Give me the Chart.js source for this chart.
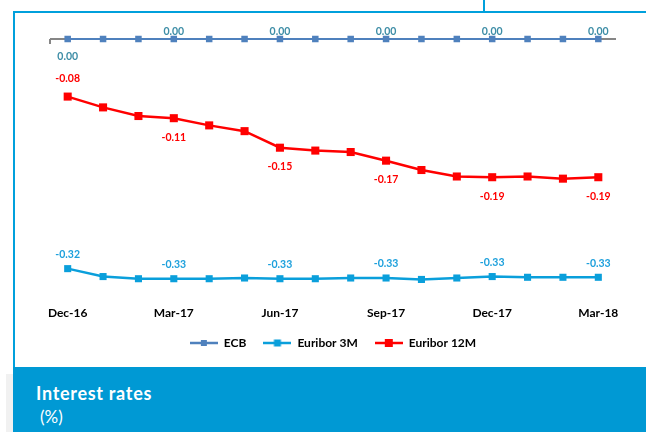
<!DOCTYPE html>
<html>
<head>
<meta charset="utf-8">
<script src="https://cdn.jsdelivr.net/npm/chart.js@4"></script>
<style>
  html, body { margin: 0; padding: 0; background: #fff; }
  #page { position: relative; width: 646px; height: 432px; overflow: hidden; font-family: Lato, 'Open Sans', sans-serif; }
  .frame { position: absolute; background: #00A0DC; }
  #box { position: absolute; left: 13px; top: 367px; width: 633px; height: 65px; background: #0099D4; color: #fff; }
  #shadow { position: absolute; left: 6px; top: 374px; width: 7px; height: 58px; background: #f1f1f1; }
  #box .t1 { position: absolute; left: 23px; top: 15px; font-size: 18px; font-weight: bold; letter-spacing: 0.7px; }
  #box .t2 { position: absolute; left: 27px; top: 39px; font-size: 17px; }
  #wrap { position: absolute; left: 0; top: 0; width: 646px; height: 366px; }
</style>
</head>
<body>
<div id="page">
  <div class="frame" style="left:13px; top:11px; width:633px; height:2px;"></div>
  <div class="frame" style="left:13px; top:11px; width:2px; height:356px;"></div>
  <div class="frame" style="left:483px; top:0; width:2px; height:12px;"></div>
  <div id="shadow"></div>
  <div id="box"><div class="t1">Interest rates</div><div class="t2">(%)</div></div>
  <div id="wrap"><canvas id="chart" width="646" height="366"></canvas></div>
</div>
<script>
// Months on the category axis
const months = ['Dec-16', 'Jan-17', 'Feb-17', 'Mar-17', 'Apr-17', 'May-17', 'Jun-17', 'Jul-17',
  'Aug-17', 'Sep-17', 'Oct-17', 'Nov-17', 'Dec-17', 'Jan-18', 'Feb-18', 'Mar-18'];

// Series values (%)
const ecb = [0, 0, 0, 0, 0, 0, 0, 0, 0, 0, 0, 0, 0, 0, 0, 0];
const euribor3m = [-0.319, -0.330, -0.333, -0.333, -0.333, -0.332, -0.333, -0.333,
  -0.332, -0.332, -0.334, -0.332, -0.330, -0.331, -0.331, -0.331];
const euribor12m = [-0.080, -0.095, -0.107, -0.110, -0.120, -0.128, -0.151, -0.155,
  -0.157, -0.169, -0.182, -0.191, -0.192, -0.191, -0.194, -0.192];

const colors = {
  ecb: '#4F81BD',
  ecbLabel: '#3D8DA6',
  e3m: '#0A9FDB',
  e3mLabel: '#1DA0DC',
  e12m: '#FF0000',
  axis: '#868686'
};

// Legend icons: short line with a square marker
function legendIcon(color, side, lw) {
  const c = document.createElement('canvas');
  c.width = 28; c.height = 10;
  const g = c.getContext('2d');
  g.strokeStyle = color;
  g.lineWidth = lw;
  g.beginPath(); g.moveTo(0, 5); g.lineTo(28, 5); g.stroke();
  g.fillStyle = color;
  g.fillRect(14 - side / 2, 5 - side / 2, side, side);
  return c;
}
const icons = [
  legendIcon(colors.ecb, 6, 2.5),
  legendIcon(colors.e3m, 7, 2.5),
  legendIcon(colors.e12m, 8, 2.5)
];

// Gray zero line with the small tick at its left end
const zeroLine = {
  id: 'zeroLine',
  beforeDatasetsDraw(chart) {
    const { ctx, chartArea: a, scales: { y } } = chart;
    const y0 = Math.round(y.getPixelForValue(0));
    ctx.save();
    ctx.strokeStyle = colors.axis;
    ctx.lineWidth = 2;
    ctx.beginPath();
    ctx.moveTo(a.left, y0);
    ctx.lineTo(a.right, y0);
    ctx.moveTo(a.left, y0);
    ctx.lineTo(a.left, y0 + 5);
    ctx.stroke();
    ctx.restore();
  }
};

// Value labels on every third month
const valueLabels = {
  id: 'valueLabels',
  afterDatasetsDraw(chart) {
    const { ctx } = chart;
    const spec = [
      { color: colors.ecbLabel, dy: i => (i === 0 ? 18 : -7) },
      { color: colors.e3mLabel, dy: () => -14 },
      { color: colors.e12m, dy: i => (i === 0 ? -18 : 19) }
    ];
    ctx.save();
    ctx.font = 'bold 10.5px Lato, sans-serif';
    ctx.textAlign = 'center';
    ctx.textBaseline = 'middle';
    chart.data.datasets.forEach((ds, d) => {
      const meta = chart.getDatasetMeta(d);
      meta.data.forEach((pt, i) => {
        if (i % 3 !== 0) return;
        ctx.fillStyle = spec[d].color;
        ctx.fillText(ds.data[i].toFixed(2), pt.x, pt.y + spec[d].dy(i));
      });
    });
    ctx.restore();
  }
};

new Chart(document.getElementById('chart'), {
  type: 'line',
  data: {
    labels: months,
    datasets: [
      {
        label: 'ECB',
        data: ecb,
        borderColor: colors.ecb,
        backgroundColor: colors.ecb,
        borderWidth: 2,
        pointStyle: 'rect',
        pointRadius: 4.6,
        pointBorderWidth: 0,
        clip: false
      },
      {
        label: 'Euribor 3M',
        data: euribor3m,
        borderColor: colors.e3m,
        backgroundColor: colors.e3m,
        borderWidth: 2.5,
        pointStyle: 'rect',
        pointRadius: 5,
        pointBorderWidth: 0,
        clip: false
      },
      {
        label: 'Euribor 12M',
        data: euribor12m,
        borderColor: colors.e12m,
        backgroundColor: colors.e12m,
        borderWidth: 2.5,
        pointStyle: 'rect',
        pointRadius: 5.7,
        pointBorderWidth: 0,
        clip: false
      }
    ]
  },
  options: {
    responsive: false,
    animation: false,
    layout: { padding: { left: 50, right: 30, top: 39, bottom: 7 } },
    scales: {
      y: {
        display: false,
        min: -0.357,
        max: 0
      },
      x: {
        offset: true,
        grid: { display: false, drawTicks: false },
        border: { display: false },
        afterFit: s => { s.height = 24; },
        ticks: {
          autoSkip: false,
          maxRotation: 0,
          padding: 10,
          color: '#000',
          font: { family: 'Lato, sans-serif', size: 12, weight: 'bold' },
          callback: (v, i) => (i % 3 === 0 ? months[i] : '')
        }
      }
    },
    plugins: {
      legend: {
        position: 'bottom',
        labels: {
          usePointStyle: true,
          pointStyleWidth: 28,
          padding: 17,
          color: '#000',
          font: { family: 'Lato, sans-serif', size: 12, weight: 'bold' },
          generateLabels: chart =>
            Chart.defaults.plugins.legend.labels.generateLabels(chart)
              .map((l, i) => ({ ...l, pointStyle: icons[i] }))
        }
      },
      tooltip: { enabled: false }
    }
  },
  plugins: [zeroLine, valueLabels]
});
</script>
</body>
</html>
